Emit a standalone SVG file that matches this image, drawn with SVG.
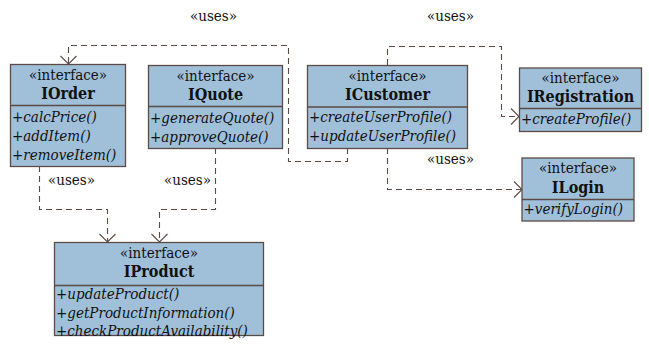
<svg xmlns="http://www.w3.org/2000/svg" width="649" height="361" viewBox="0 0 649 361">
  <style>
    .box { fill: #a0c0da; stroke: #5c4a44; stroke-width: 1.3; }
    .sep { stroke: #5c4a44; stroke-width: 1.3; }
    text { font-family: "DejaVu Serif Condensed", "DejaVu Serif", serif; font-stretch: condensed; font-size: 15px; fill: #111; }
    .st { text-anchor: middle; }
    .nm { text-anchor: middle; font-weight: bold; font-size: 16px; }
    .op { font-style: italic; }
    .dep { fill: none; stroke: #5c4a44; stroke-width: 1.1; stroke-dasharray: 6 4; }
    .head { fill: none; stroke: #5c4a44; stroke-width: 1.1; }
  </style>
  <rect width="649" height="361" fill="#ffffff"/>

  <g id="connectors">
    <!-- ICustomer uses IOrder -->
    <path class="dep" d="M347.5 148 V161.5 H288.5 V45.5 H68.5 V64"/>
    <path class="head" d="M60.5 56 L68.5 64 L76.5 56"/>
    <text x="190" y="21">«uses»</text>
    <!-- ICustomer uses IRegistration -->
    <path class="dep" d="M387.5 65 V46.5 H501.5 V116.5 H519"/>
    <path class="head" d="M511 108.5 L519 116.5 L511 124.5"/>
    <text x="427" y="21">«uses»</text>
    <!-- ICustomer uses ILogin -->
    <path class="dep" d="M387.5 148 V189.5 H522"/>
    <path class="head" d="M514 181.5 L522 189.5 L514 197.5"/>
    <text x="427" y="164">«uses»</text>
    <!-- IOrder uses IProduct -->
    <path class="dep" d="M39.5 166 V209.5 H107.5 V242"/>
    <path class="head" d="M99.5 234 L107.5 242 L115.5 234"/>
    <text x="48" y="185">«uses»</text>
    <!-- IQuote uses IProduct -->
    <path class="dep" d="M215.5 148 V209.5 H159.5 V242"/>
    <path class="head" d="M151.5 234 L159.5 242 L167.5 234"/>
    <text x="164" y="185">«uses»</text>
  </g>

  <g id="IOrder">
    <rect class="box" x="10.5" y="64.5" width="115" height="102"/>
    <line class="sep" x1="10.5" y1="105.5" x2="125.5" y2="105.5"/>
    <text class="st" x="68" y="80">«interface»</text>
    <text class="nm" x="68" y="99">IOrder</text>
    <text class="op" x="12" y="122">+calcPrice()</text>
    <text class="op" x="12" y="141">+addItem()</text>
    <text class="op" x="12" y="160">+removeItem()</text>
  </g>

  <g id="IQuote">
    <rect class="box" x="148.5" y="65.5" width="134" height="83"/>
    <line class="sep" x1="148.5" y1="106.5" x2="282.5" y2="106.5"/>
    <text class="st" x="215.5" y="81">«interface»</text>
    <text class="nm" x="215.5" y="100">IQuote</text>
    <text class="op" x="150" y="123">+generateQuote()</text>
    <text class="op" x="150" y="142">+approveQuote()</text>
  </g>

  <g id="ICustomer">
    <rect class="box" x="307.5" y="65.5" width="160" height="83"/>
    <line class="sep" x1="307.5" y1="107" x2="467.5" y2="107"/>
    <text class="st" x="387.5" y="81">«interface»</text>
    <text class="nm" x="387.5" y="100">ICustomer</text>
    <text class="op" x="309" y="122">+createUserProfile()</text>
    <text class="op" x="309" y="141">+updateUserProfile()</text>
  </g>

  <g id="IRegistration">
    <rect class="box" x="519.5" y="68" width="122" height="63.5"/>
    <line class="sep" x1="519.5" y1="108.5" x2="641.5" y2="108.5"/>
    <text class="st" x="580.5" y="83">«interface»</text>
    <text class="nm" x="580.5" y="102">IRegistration</text>
    <text class="op" x="521" y="124">+createProfile()</text>
  </g>

  <g id="ILogin">
    <rect class="box" x="522" y="158" width="112" height="63"/>
    <line class="sep" x1="522" y1="199.5" x2="634" y2="199.5"/>
    <text class="st" x="578" y="173">«interface»</text>
    <text class="nm" x="578" y="193">ILogin</text>
    <text class="op" x="523.5" y="214">+verifyLogin()</text>
  </g>

  <g id="IProduct">
    <rect class="box" x="54.5" y="242.5" width="209" height="93"/>
    <line class="sep" x1="54.5" y1="285.5" x2="263.5" y2="285.5"/>
    <text class="st" x="159" y="258">«interface»</text>
    <text class="nm" x="159" y="277">IProduct</text>
    <text class="op" x="56" y="299">+updateProduct()</text>
    <text class="op" x="56" y="318">+getProductInformation()</text>
    <text class="op" x="56" y="336">+checkProductAvailability()</text>
  </g>
</svg>
